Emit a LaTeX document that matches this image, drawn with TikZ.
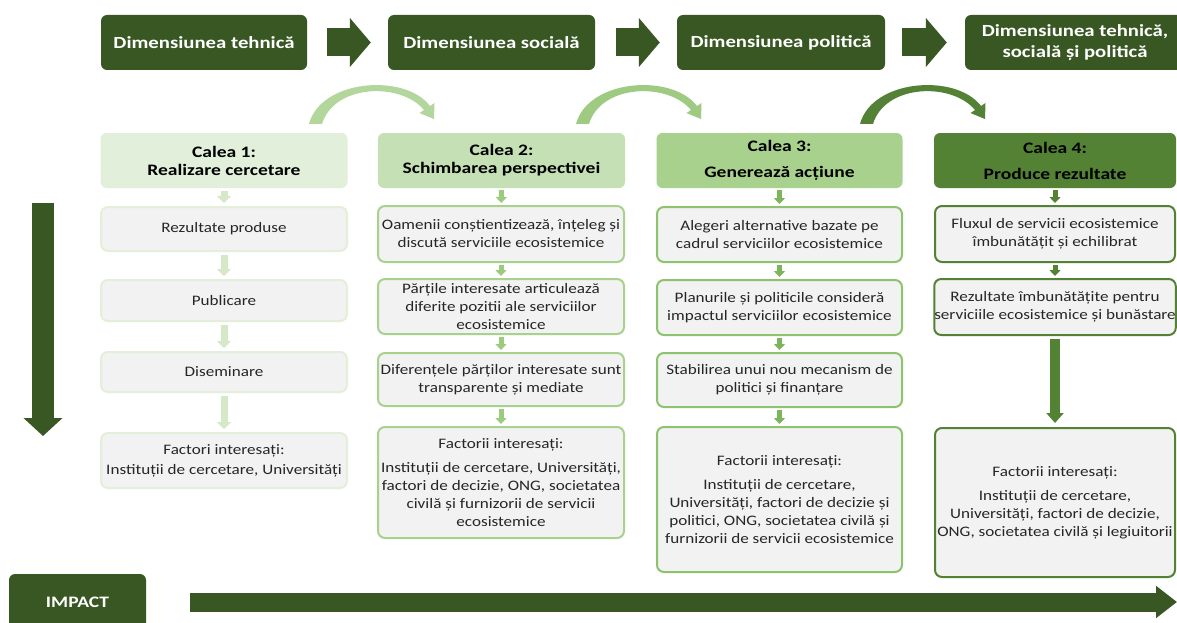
\documentclass[tikz,border=0pt]{standalone}
\usepackage{fontspec}
\setmainfont{Carlito}[FakeStretch=1.18]
\newfontfamily\headfont{Carlito}[FakeStretch=1.22]
\usetikzlibrary{arrows.meta}

\definecolor{dkgreen}{HTML}{385723}
\definecolor{calA}{HTML}{E2EFDA}
\definecolor{calB}{HTML}{C5E0B4}
\definecolor{calC}{HTML}{A9D18E}
\definecolor{calD}{HTML}{548235}
\definecolor{brdA}{HTML}{E2EFDA}
\definecolor{brdB}{HTML}{A9D18E}
\definecolor{brdC}{HTML}{8DC26F}
\definecolor{brdD}{HTML}{548235}
\definecolor{arrA}{HTML}{D5E8C8}
\definecolor{arrB}{HTML}{9CCB7E}
\definecolor{arrC}{HTML}{7DB55A}
\definecolor{arrD}{HTML}{548235}
\definecolor{bendA}{HTML}{B2D69B}
\definecolor{bendB}{HTML}{9ECA82}
\definecolor{bendC}{HTML}{538135}
\definecolor{boxgrey}{HTML}{F2F2F2}
\definecolor{txt}{HTML}{262626}

\tikzset{
  dimbox/.style={fill=dkgreen, rounded corners=6pt, text=white, align=center,
    inner sep=0pt, minimum height=55pt,
    font=\headfont\fontsize{17}{21}\selectfont\bfseries},
  calbox/.style={fill=#1, rounded corners=6pt, text=black, align=center,
    inner sep=0pt, minimum height=55pt,
    font=\headfont\fontsize{16}{18}\selectfont\bfseries},
  procbox/.style={fill=boxgrey, draw=#1, line width=2pt, rounded corners=7pt,
    text=txt, align=center, inner sep=0pt,
    font=\fontsize{14.5}{18}\selectfont},
  toparr/.style={draw=dkgreen, line width=28pt, -{Triangle[length=21pt,width=48pt]}},
  smallarr/.style={draw=#1, line width=5pt, -{Triangle[length=6pt,width=11pt]},
    shorten <=2pt, shorten >=2pt},
  widearr/.style={draw=#1, line width=7pt, -{Triangle[length=7pt,width=14pt]},
    shorten <=3pt, shorten >=3pt},
  bigarr/.style={draw=dkgreen, line width=22pt, -{Triangle[length=18pt,width=38pt]}},
  bendarrow/.pic={
    \fill[pic actions] (0,124) .. controls (12,79) and (96,73) .. (121,106)
      -- (125.5,103) -- (125,119) -- (110.5,113) -- (115,110)
      .. controls (92,82) and (25,84) .. (13,124) -- cycle;
  },
}

\begin{document}
\begin{tikzpicture}[x=1pt,y=-1pt]
\useasboundingbox (0,0) rectangle (1177,623);
\clip (0,0) rectangle (1177,623);
\fill[white] (0,0) rectangle (1177,623);

% dimensions row
\node[dimbox, minimum width=206pt] (dimA) at (204,42.5) {Dimensiunea tehnică};
\node[dimbox, minimum width=207pt] (dimB) at (491.5,42.5) {Dimensiunea socială};
\node[dimbox, minimum width=208pt] (dimC) at (781,42.5) {Dimensiunea politică};
\node[dimbox, minimum width=220pt] (dimD) at (1075,42.5) {Dimensiunea tehnică,\\socială și politică};

\draw[toparr] ([xshift=20pt]dimA.east) -- ([xshift=-17pt]dimB.west);
\draw[toparr] ([xshift=21pt]dimB.east) -- ([xshift=-17pt]dimC.west);
\draw[toparr] ([xshift=17pt]dimC.east) -- ([xshift=-18pt]dimD.west);

% bent arrows between pathways
\pic[fill=bendA] at (309,0) {bendarrow};
\pic[fill=bendB] at (576,0) {bendarrow};
\pic[fill=bendC] at (860,0) {bendarrow};

% pathway headers
\node[calbox=calA, minimum width=247pt] (cal1) at (224,160.5) {Calea 1:\\Realizare cercetare};
\node[calbox=calB, minimum width=247pt] (cal2) at (501.5,160.5) {Calea 2:\\Schimbarea perspectivei};
\node[calbox=calC, minimum width=246pt] (cal3) at (779.5,160.5) {Calea 3:\\[8pt]Generează acțiune};
\node[calbox=calD, minimum width=242pt] (cal4) at (1055,160.5) {Calea 4:\\[8pt]Produce rezultate};

% pathway 1
\node[procbox=brdA, minimum width=246pt, minimum height=44pt] (r1a) at (224,229) {Rezultate produse};
\node[procbox=brdA, minimum width=246pt, minimum height=41pt] (r1b) at (224,300.5) {Publicare};
\node[procbox=brdA, minimum width=246pt, minimum height=40pt] (r1c) at (224,372) {Diseminare};
\node[procbox=brdA, minimum width=246pt, minimum height=55pt, font=\fontsize{14.5}{20}\selectfont] (r1d) at (224,460.5)
  {Factori interesați:\\Instituții de cercetare, Universități};
\draw[widearr=arrA] (cal1) -- (r1a);
\draw[widearr=arrA] (r1a) -- (r1b);
\draw[widearr=arrA] (r1b) -- (r1c);
\draw[widearr=arrA] (r1c) -- (r1d);

% pathway 2
\node[procbox=brdB, minimum width=246pt, minimum height=56pt] (r2a) at (501,234)
  {Oamenii conștientizează, înțeleg și\\discută serviciile ecosistemice};
\node[procbox=brdB, minimum width=246pt, minimum height=55pt] (r2b) at (501,306.5)
  {Părțile interesate articulează\\diferite pozitii ale serviciilor\\ecosistemice};
\node[procbox=brdB, minimum width=246pt, minimum height=53pt] (r2c) at (501,379.5)
  {Diferențele părților interesate sunt\\transparente și mediate};
\node[procbox=brdB, minimum width=246pt, minimum height=111pt] (r2d) at (501,482.5)
  {Factorii interesați:\\[6pt]Instituții de cercetare, Universități,\\factori de decizie, ONG, societatea\\civilă și furnizorii de servicii\\ecosistemice};
\draw[smallarr=arrB] (cal2) -- (r2a);
\draw[smallarr=arrB] (r2a) -- (r2b);
\draw[smallarr=arrB] (r2b) -- (r2c);
\draw[smallarr=arrB] (r2c) -- (r2d);

% pathway 3
\node[procbox=brdC, minimum width=245pt, minimum height=55pt] (r3a) at (779.5,234.5)
  {Alegeri alternative bazate pe\\cadrul serviciilor ecosistemice};
\node[procbox=brdC, minimum width=245pt, minimum height=55pt] (r3b) at (779.5,307.5)
  {Planurile și politicile consideră\\impactul serviciilor ecosistemice};
\node[procbox=brdC, minimum width=245pt, minimum height=54pt] (r3c) at (779.5,380)
  {Stabilirea unui nou mecanism de\\politici și finanțare};
\node[procbox=brdC, minimum width=245pt, minimum height=145pt] (r3d) at (779.5,499.5)
  {Factorii interesați:\\[6pt]Instituții de cercetare,\\Universități, factori de decizie și\\politici, ONG, societatea civilă și\\furnizorii de servicii ecosistemice};
\draw[smallarr=arrC] (cal3) -- (r3a);
\draw[smallarr=arrC] (r3a) -- (r3b);
\draw[smallarr=arrC] (r3b) -- (r3c);
\draw[smallarr=arrC] (r3c) -- (r3d);

% pathway 4
\node[procbox=brdD, minimum width=240pt, minimum height=56pt] (r4a) at (1055,234)
  {Fluxul de servicii ecosistemice\\îmbunătățit și echilibrat};
\node[procbox=brdD, minimum width=240pt, minimum height=56pt] (r4b) at (1055,307)
  {Rezultate îmbunătățite pentru\\serviciile ecosistemice și bunăstare};
\node[procbox=brdD, minimum width=240pt, minimum height=149pt] (r4d) at (1055,502.5)
  {Factorii interesați:\\[6pt]Instituții de cercetare,\\Universități, factori de decizie,\\ONG, societatea civilă și legiuitorii};
\draw[smallarr=arrD] (cal4) -- (r4a);
\draw[smallarr=arrD] (r4a) -- (r4b);
\draw[draw=arrD, line width=10pt, -{Triangle[length=10pt,width=17pt]}, shorten <=3pt, shorten >=4pt] (r4b) -- (r4d);

% time arrow on the left
\coordinate (down0) at (43,203);
\coordinate (down1) at (43,436);
\draw[bigarr] (down0) -- (down1);

% impact
\node[dimbox, minimum width=137pt, minimum height=56pt, font=\headfont\fontsize{16}{18}\selectfont\bfseries] (impact) at (77.5,602) {IMPACT};
\coordinate (impactEnd) at (1177,602);
\draw[draw=dkgreen, line width=19pt, -{Triangle[length=21pt,width=31pt]}] ([xshift=44pt]impact.east) -- (impactEnd);
\end{tikzpicture}
\end{document}
